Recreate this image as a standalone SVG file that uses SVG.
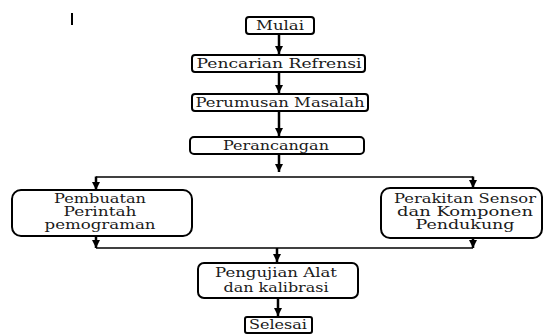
<svg xmlns="http://www.w3.org/2000/svg" width="550" height="336" viewBox="0 0 550 336">
<defs>
<style>
.box{fill:#fff;stroke:#000;stroke-width:2}
.t{font-family:"DejaVu Serif","Liberation Serif","Times New Roman",serif;font-size:12px;fill:#1a1a1a;text-anchor:middle}
.sh{stroke:#000;stroke-width:2.5;fill:none}
.ln{stroke:#000;stroke-width:1.6;fill:none}
</style>
<marker id="ah" viewBox="0 0 10 10" refX="10" refY="5" markerWidth="3.4" markerHeight="3.4" markerUnits="strokeWidth" orient="auto">
<path d="M0,0 L10,5 L0,10 z" fill="#000"/>
</marker>
</defs>
<rect x="71" y="13" width="2" height="12" fill="#000"/>
<g id="connectors">
<line class="sh" x1="279" y1="34" x2="279" y2="54" marker-end="url(#ah)"/>
<line class="sh" x1="279" y1="73" x2="279" y2="93" marker-end="url(#ah)"/>
<line class="sh" x1="279" y1="112" x2="279" y2="136" marker-end="url(#ah)"/>
<line class="sh" x1="279" y1="155" x2="279" y2="172" marker-end="url(#ah)"/>
<polyline class="ln" points="96,177 473,177"/>
<line class="sh" x1="96" y1="176.5" x2="96" y2="190" marker-end="url(#ah)"/>
<line class="sh" x1="473" y1="176.5" x2="473" y2="188" marker-end="url(#ah)"/>
<line class="sh" x1="96" y1="237" x2="96" y2="248" marker-end="url(#ah)"/>
<line class="sh" x1="473" y1="239" x2="473" y2="248" marker-end="url(#ah)"/>
<polyline class="ln" points="96,248 473,248"/>
<line class="sh" x1="277" y1="248" x2="277" y2="262" marker-end="url(#ah)"/>
<line class="sh" x1="278" y1="299" x2="278" y2="316" marker-end="url(#ah)"/>
</g>
<g id="mulai">
<rect class="box" x="246" y="17" width="68" height="17" rx="3"/>
<text class="t" x="280" y="30" textLength="48" lengthAdjust="spacingAndGlyphs">Mulai</text>
</g>
<g id="pencarian">
<rect class="box" x="192" y="55" width="173" height="17" rx="3"/>
<text class="t" x="279" y="68" textLength="165" lengthAdjust="spacingAndGlyphs">Pencarian Refrensi</text>
</g>
<g id="perumusan">
<rect class="box" x="192" y="94" width="176" height="17" rx="3"/>
<text class="t" x="280" y="107" textLength="169" lengthAdjust="spacingAndGlyphs">Perumusan Masalah</text>
</g>
<g id="perancangan">
<rect class="box" x="190" y="137" width="174" height="17" rx="4"/>
<text class="t" x="276" y="150" textLength="106" lengthAdjust="spacingAndGlyphs">Perancangan</text>
</g>
<g id="pembuatan">
<rect class="box" x="12" y="190" width="180" height="46" rx="9"/>
<text class="t" x="100" y="203" textLength="92" lengthAdjust="spacingAndGlyphs">Pembuatan</text>
<text class="t" x="100" y="216" textLength="73" lengthAdjust="spacingAndGlyphs">Perintah</text>
<text class="t" x="100" y="229" textLength="111" lengthAdjust="spacingAndGlyphs">pemograman</text>
</g>
<g id="perakitan">
<rect class="box" x="381" y="188" width="161" height="50" rx="9"/>
<text class="t" x="465" y="203" textLength="142" lengthAdjust="spacingAndGlyphs">Perakitan Sensor</text>
<text class="t" x="465" y="216" textLength="136" lengthAdjust="spacingAndGlyphs">dan Komponen</text>
<text class="t" x="465" y="229" textLength="99" lengthAdjust="spacingAndGlyphs">Pendukung</text>
</g>
<g id="pengujian">
<rect class="box" x="198" y="263" width="160" height="35" rx="6"/>
<text class="t" x="276" y="277" textLength="122" lengthAdjust="spacingAndGlyphs">Pengujian Alat</text>
<text class="t" x="276" y="292" textLength="105" lengthAdjust="spacingAndGlyphs">dan kalibrasi</text>
</g>
<g id="selesai">
<rect class="box" x="245" y="317" width="67" height="16" rx="2"/>
<text class="t" x="278" y="329" textLength="58" lengthAdjust="spacingAndGlyphs">Selesai</text>
</g>
</svg>
